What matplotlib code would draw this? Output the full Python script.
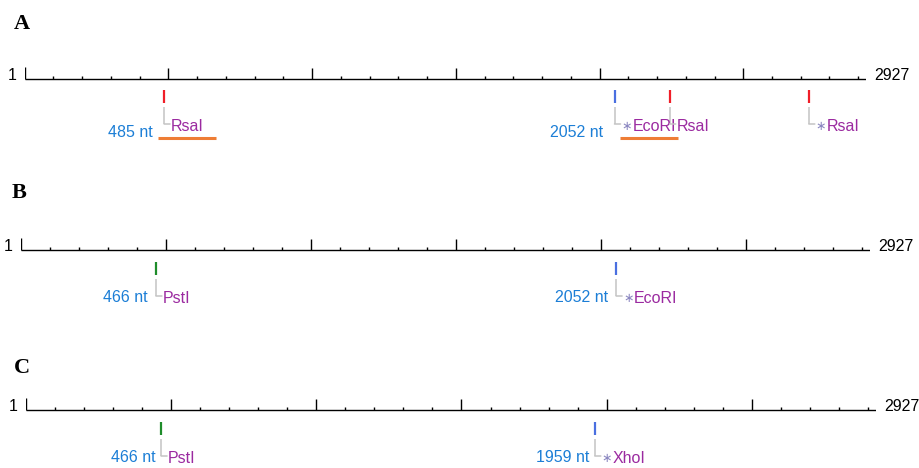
import matplotlib
matplotlib.use('Agg')
import matplotlib.pyplot as plt
from matplotlib.transforms import offset_copy

W, H = 920, 468
SEQ_LEN = 2927

# panel A
a_sites = [485, 2052, 2244, 2728]
a_enzymes = ['RsaI', 'EcoRI', 'RsaI', 'RsaI']
a_star = [False, True, False, True]
a_kind = ['rsa', 'eco', 'rsa', 'rsa']
a_nt = [485, 2052]
a_bars = [(464, 665), (2071, 2272)]

# panel B
b_sites = [466, 2052]
b_enzymes = ['PstI', 'EcoRI']
b_star = [False, True]
b_kind = ['pst', 'eco']
b_nt = [466, 2052]

# panel C
c_sites = [466, 1959]
c_enzymes = ['PstI', 'XhoI']
c_star = [False, True]
c_kind = ['pst', 'xho']
c_nt = [466, 1959]

tick_colors = {'rsa': '#f01e28', 'eco': '#4a6fe0', 'xho': '#4a6fe0', 'pst': '#1e8c2a'}
NT_BLUE = '#1c7ed6'
PURPLE = '#9b2aa0'
STAR = '#8a86c0'
GREY = '#c4c4c4'
ORANGE = '#ee7d35'
SANS = ['Liberation Sans', 'DejaVu Sans']

fig = plt.figure(figsize=(W / 100, H / 100), dpi=100)


def shifted(ax, dx):
    # data transform moved sideways by dx pixels
    return offset_copy(ax.transData, fig, x=dx, y=0, units='dots')


def draw_panel(letter, letter_xy, x0, x1, yax, sites, enzymes, star, kinds, nt_marks,
               nt_dx=-10, nt_dy=52, tick_top=12, bars=()):
    ax = fig.add_axes([x0 / W, 1 - (yax + 75) / H, (x1 - x0) / W, 150 / H])
    ax.set_xlim(1, SEQ_LEN)
    ax.set_ylim(75, -75)
    ax.axis('off')

    fig.text(letter_xy[0] / W, 1 - letter_xy[1] / H, letter, fontsize=16,
             fontweight='bold', family='Liberation Serif', va='baseline')

    # ruler
    ax.hlines(0, 1, SEQ_LEN, color='black', lw=1.0)
    ax.vlines(1, -12, 0, color='black', lw=1.0)
    for p in range(100, SEQ_LEN, 100):
        h = 11 if p % 500 == 0 else 3
        ax.vlines(p, -h, 0, color='black', lw=1.0)
    ax.text(1, 1, '1', transform=shifted(ax, -8),
            ha='right', va='baseline', fontsize=11.5, family=SANS)
    ax.text(SEQ_LEN, 1, str(SEQ_LEN), transform=shifted(ax, 8),
            ha='left', va='baseline', fontsize=11.5, family=SANS)

    lab_y = tick_top + 41
    con_y = tick_top + 34
    for pos, name, st, kind in zip(sites, enzymes, star, kinds):
        ax.vlines(pos, tick_top, tick_top + 13, color=tick_colors[kind], lw=1.6)
        ax.vlines(pos, tick_top + 17, con_y, color=GREY, lw=1.1)
        ax.annotate('', xy=(pos, con_y), xytext=(6, 0), textcoords='offset pixels',
                    arrowprops=dict(arrowstyle='-', color=GREY, lw=1.1,
                                    shrinkA=0, shrinkB=0))
        dx = 7
        if st:
            ax.text(pos, lab_y - 1, '\u2217', transform=shifted(ax, dx),
                    ha='left', va='baseline', fontsize=9, color=STAR, family=SANS)
            dx = 18
        ax.text(pos, lab_y, name, transform=shifted(ax, dx),
                ha='left', va='baseline', fontsize=11.5, color=PURPLE, family=SANS)

    for pos in nt_marks:
        ax.text(pos, nt_dy, f'{pos} nt', transform=shifted(ax, nt_dx),
                ha='right', va='baseline', fontsize=11.5, color=NT_BLUE, family=SANS)

    for b0, b1 in bars:
        ax.hlines(tick_top + 48, b0, b1, color=ORANGE, lw=2.2)


draw_panel('A', (14, 29), 25, 866, 79, a_sites, a_enzymes, a_star, a_kind, a_nt,
           nt_dx=-11, nt_dy=58, tick_top=11, bars=a_bars)
draw_panel('B', (12, 198), 21, 870, 250, b_sites, b_enzymes, b_star, b_kind, b_nt,
           nt_dx=-8, nt_dy=52, tick_top=12)
draw_panel('C', (14, 373), 26, 876, 410, c_sites, c_enzymes, c_star, c_kind, c_nt,
           nt_dx=-5, nt_dy=52, tick_top=12)

fig.savefig('out.png', dpi=100)
